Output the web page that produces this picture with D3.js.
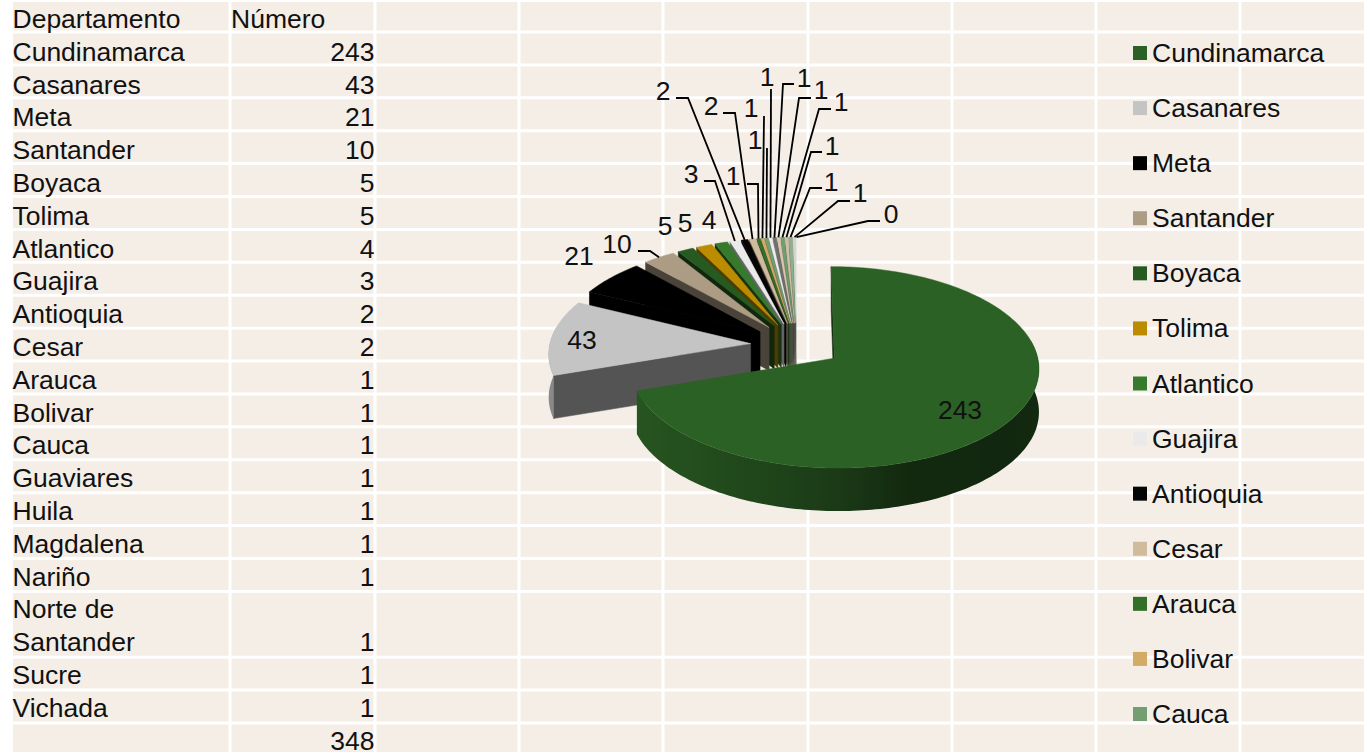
<!DOCTYPE html>
<html lang="es">
<head>
  <meta charset="UTF-8">
  <title>Departamento - Número</title>
  <script src="https://d3js.org/d3.v7.min.js"></script>
  <style>
    html, body { margin: 0; padding: 0; background: #fff; overflow: hidden; }
    text { font-family: "Liberation Sans", Arial, sans-serif; font-size: 26.5px; fill: #111; }
  </style>
</head>
<body>
  <div id="chart"></div>

  <script>
    // data
    const departamentos = ['Cundinamarca', 'Casanares', 'Meta', 'Santander', 'Boyaca', 'Tolima', 'Atlantico',
      'Guajira', 'Antioquia', 'Cesar', 'Arauca', 'Bolivar', 'Cauca', 'Guaviares', 'Huila', 'Magdalena',
      'Nariño', 'Norte de Santander', 'Sucre', 'Vichada', ''];
    const numeros = [243, 43, 21, 10, 5, 5, 4, 3, 2, 2, 1, 1, 1, 1, 1, 1, 1, 1, 1, 1, 0];
    const total = 348;
    const colores = ['#2c6125', '#c4c4c4', '#000000', '#ad9c84', '#265a20', '#bb8c00', '#377a2e',
      '#eaeaea', '#050505', '#d1bb9d', '#32702a', '#d3aa66', '#729e72', '#ececec', '#707070', '#d9c6ac',
      '#6f9e72', '#d0bfa5', '#8fb08f', '#cfd8cc', '#dddddd'];
    const legendCount = 13; // the rest of the legend is cut off by the window

    const width = 1364, height = 752;
    const svg = d3.select('#chart').append('svg')
      .attr('width', width).attr('height', height)
      .style('display', 'block');
    const defs = svg.append('defs');

    // sheet background and white cell borders
    svg.append('rect').attr('width', width).attr('height', height).attr('fill', '#f4eee7');

    const rowLine = d3.scaleLinear().domain([0, 21]).range([32, 723]);
    const colLines = [230, 375, 519, 663, 808, 952, 1096, 1240];

    svg.append('g').selectAll('line')
      .data(d3.range(0, 22).filter(i => i !== 18)) // Norte de Santander row is two lines tall
      .enter().append('line')
      .attr('x1', 0).attr('x2', width)
      .attr('y1', d => rowLine(d)).attr('y2', d => rowLine(d))
      .attr('stroke', '#fff').attr('stroke-width', 3);

    svg.append('g').selectAll('line')
      .data(colLines)
      .enter().append('line')
      .attr('x1', d => d).attr('x2', d => d)
      .attr('y1', 0).attr('y2', height)
      .attr('stroke', '#fff').attr('stroke-width', 3);

    svg.append('rect').attr('width', 13).attr('height', height).attr('fill', '#fff');
    svg.append('rect').attr('width', width).attr('height', 2).attr('fill', '#fff');

    // table
    const rows = [['Departamento', 'Número']];
    departamentos.slice(0, 20).forEach((d, i) => {
      if (d === 'Norte de Santander') {
        rows.push(['Norte de', '']);
        rows.push(['Santander', numeros[i]]);
      } else {
        rows.push([d, numeros[i]]);
      }
    });
    rows.push(['', total]);

    const rowText = d3.scaleLinear().domain([0, 22]).range([28, 749.5]);
    const table = svg.append('g');
    table.selectAll('.dep').data(rows).enter().append('text')
      .attr('class', 'dep')
      .attr('x', 12.5).attr('y', (d, i) => rowText(i))
      .text(d => d[0]);
    table.selectAll('.num').data(rows).enter().append('text')
      .attr('class', 'num')
      .attr('x', (d, i) => i === 0 ? 231 : 374.5)
      .attr('y', (d, i) => rowText(i))
      .attr('text-anchor', (d, i) => i === 0 ? 'start' : 'end')
      .text(d => d[1]);

    // exploded 3D pie
    const cx = 796.5, cy = 345;
    const radius = 201, explode = 46, depth = 43;
    const tilt = 0.485, persp = 0.09;
    const deg = Math.PI / 180;

    const arcs = d3.pie().sort(null).startAngle(0).endAngle(2 * Math.PI)(numeros);

    function project(X, Z, h) {
      const s = 1 / (1 - persp * Z / radius);
      return [cx + X * s, cy + Z * tilt * s + (h || 0)];
    }
    function apexOf(a) {
      const mid = (a.startAngle + a.endAngle) / 2;
      return [explode * Math.sin(mid), -explode * Math.cos(mid)];
    }
    function rimPoint(a, angle, h) {
      const apex = apexOf(a);
      return project(apex[0] + radius * Math.sin(angle), apex[1] - radius * Math.cos(angle), h);
    }
    function sampleAngles(from, to) {
      const n = Math.max(2, Math.ceil((to - from) / 0.02));
      return d3.range(n + 1).map(i => from + (to - from) * i / n);
    }

    const line = d3.line();
    const closed = pts => line(pts) + 'Z';

    // brightness of the outer wall, by angle around the pie
    const wallShade = d3.scaleLinear()
      .domain([90, 128, 162, 180, 197, 219, 251, 280].map(d => d * deg))
      .range([0.45, 0.4, 0.42, 0.6, 0.7, 0.8, 0.88, 0.7])
      .clamp(true);

    const pie = svg.append('g');
    // far slices first, big green one last
    const drawOrder = arcs.slice(1).reverse().concat(arcs[0]);

    drawOrder.forEach(a => {
      if (a.value === 0) return;
      const color = colores[a.index];
      const shaded = d3.interpolateRgb('#000', color);
      const g = pie.append('g');
      const apex = apexOf(a);

      // wall along the start edge
      const wallColor = shaded(0.43);
      g.append('path')
        .attr('d', closed([
          project(apex[0], apex[1]), rimPoint(a, a.startAngle),
          rimPoint(a, a.startAngle, depth), project(apex[0], apex[1], depth)
        ]))
        .attr('fill', wallColor).attr('stroke', wallColor).attr('stroke-width', 0.5);

      // outer wall, only where it faces the viewer
      const from = Math.max(a.startAngle, 80 * deg);
      const to = Math.min(a.endAngle, 280 * deg);
      if (to > from) {
        const ang = sampleAngles(from, to);
        const stopAng = sampleAngles(Math.max(from, 90 * deg), to);
        const xs = stopAng.map(t => rimPoint(a, t)[0]);
        const xLeft = d3.min(xs), xRight = d3.max(xs);
        const offset = d3.scaleLinear().domain([xLeft, xRight]).range([0, 1]);
        const grad = defs.append('linearGradient')
          .attr('id', 'wall' + a.index)
          .attr('gradientUnits', 'userSpaceOnUse')
          .attr('x1', xLeft).attr('x2', xRight).attr('y1', 0).attr('y2', 0);
        stopAng.slice().reverse().forEach(t => {
          grad.append('stop')
            .attr('offset', offset(rimPoint(a, t)[0]))
            .attr('stop-color', shaded(wallShade(t)));
        });
        const wall = ang.map(t => rimPoint(a, t))
          .concat(ang.slice().reverse().map(t => rimPoint(a, t, depth)));
        g.append('path').attr('d', closed(wall)).attr('fill', 'url(#wall' + a.index + ')');
      }

      // top face
      const top = [project(apex[0], apex[1])]
        .concat(sampleAngles(a.startAngle, a.endAngle).map(t => rimPoint(a, t)));
      g.append('path').attr('d', closed(top))
        .attr('fill', color).attr('stroke', color).attr('stroke-width', 0.5);
    });

    // data labels: [text x, text y, leader points from the label to the slice]
    const labelLayout = [
      [960, 410, null], [582, 340, null], [579, 256, null],
      [617, 244, [[638, 251], [650, 251]]],
      [665, 226, null], [685, 223, null], [709, 220, null],
      [691, 174, [[704, 181], [715, 181]]],
      [663, 91, [[676, 98], [688, 98]]],
      [711, 106, [[723, 113], [735, 113]]],
      [733, 176, [[747, 184], [758, 184]]],
      [751, 108, [[764, 116]]],
      [755, 140, [[767, 148]]],
      [767, 77, [[771, 89]]],
      [804, 78, [[794, 84], [783, 84]]],
      [821, 90, [[811, 98], [799, 98]]],
      [841, 102, [[831, 109], [819, 109]]],
      [832, 146, [[822, 152], [811, 152]]],
      [831, 182, [[822, 188], [810, 188]]],
      [860, 193, [[850, 201], [838, 201]]],
      [891, 214, [[880, 221], [868, 221]]]
    ];

    const labels = svg.append('g');
    arcs.forEach(a => {
      const lay = labelLayout[a.index];
      if (lay[2]) {
        const mid = (a.startAngle + a.endAngle) / 2;
        labels.append('path')
          .attr('d', line(lay[2].concat([rimPoint(a, mid)])))
          .attr('fill', 'none').attr('stroke', '#000').attr('stroke-width', 1.8);
      }
      labels.append('text')
        .attr('x', lay[0]).attr('y', lay[1] + 9)
        .attr('text-anchor', 'middle')
        .text(a.value);
    });

    // legend
    const legendY = d3.scaleLinear().domain([0, 12]).range([53, 714]);
    const legend = svg.append('g').selectAll('g')
      .data(departamentos.slice(0, legendCount))
      .enter().append('g')
      .attr('transform', (d, i) => `translate(1133, ${legendY(i)})`);
    legend.append('rect')
      .attr('y', -7).attr('width', 14).attr('height', 14)
      .attr('fill', (d, i) => colores[i]);
    legend.append('text')
      .attr('x', 19).attr('y', 9)
      .text(d => d);
  </script>
</body>
</html>
